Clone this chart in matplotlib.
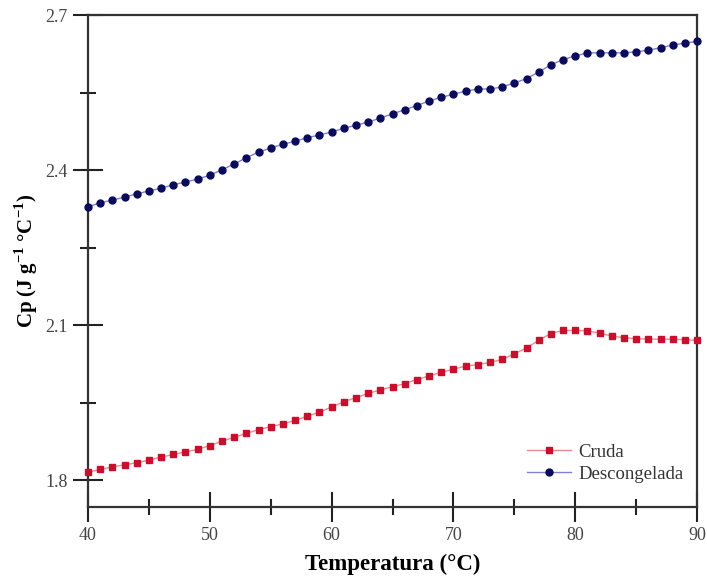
import matplotlib.pyplot as plt
from matplotlib.ticker import FixedLocator

# Temperatura (°C), un punto por grado
temp = list(range(40, 91))

cruda = [1.816, 1.821, 1.826, 1.830, 1.834, 1.839, 1.845, 1.850, 1.855, 1.860,
         1.867, 1.876, 1.883, 1.891, 1.898, 1.904, 1.909, 1.916, 1.924, 1.932,
         1.942, 1.952, 1.960, 1.968, 1.975, 1.981, 1.987, 1.995, 2.002, 2.009,
         2.015, 2.021, 2.024, 2.028, 2.034, 2.045, 2.056, 2.071, 2.084, 2.090,
         2.090, 2.089, 2.085, 2.079, 2.076, 2.074, 2.073, 2.073, 2.073, 2.072,
         2.071]

descongelada = [2.329, 2.337, 2.342, 2.348, 2.354, 2.360, 2.365, 2.372, 2.377, 2.383,
                2.390, 2.401, 2.412, 2.424, 2.435, 2.443, 2.450, 2.456, 2.463, 2.468,
                2.474, 2.481, 2.487, 2.493, 2.501, 2.509, 2.517, 2.525, 2.534, 2.541,
                2.547, 2.553, 2.557, 2.557, 2.561, 2.569, 2.577, 2.590, 2.604, 2.614,
                2.621, 2.627, 2.627, 2.627, 2.627, 2.629, 2.632, 2.637, 2.642, 2.646,
                2.649]

xticks = [40, 50, 60, 70, 80, 90]
yticks = [1.8, 2.1, 2.4, 2.7]

plt.rcParams['font.family'] = ['Liberation Serif', 'DejaVu Serif']
plt.rcParams['mathtext.fontset'] = 'custom'
plt.rcParams['mathtext.rm'] = 'Liberation Serif'
plt.rcParams['mathtext.bf'] = 'Liberation Serif:bold'

fig = plt.figure(figsize=(7.07, 5.81), dpi=100)
ax = fig.add_axes([0.1245, 0.127, 0.8615, 0.847])

ax.plot(temp, cruda, color='#f08a8a', lw=1.0, marker='s', ms=4.5,
        mfc='#c8102e', mec='#c8102e', label='Cruda', clip_on=False, zorder=3)
ax.plot(temp, descongelada, color='#8080d0', lw=1.0, marker='o', ms=5,
        mfc='#0b0b5c', mec='#0b0b5c', label='Descongelada', clip_on=False, zorder=3)

ax.set_xlim(40, 90)
ax.set_ylim(1.748, 2.7)
ax.set_xticks(xticks)
ax.set_yticks(yticks)
ax.xaxis.set_minor_locator(FixedLocator([45, 55, 65, 75, 85]))
ax.yaxis.set_minor_locator(FixedLocator([1.95, 2.25, 2.55]))

ax.tick_params(which='major', direction='inout', length=21, width=1.5,
               labelsize=13, labelcolor='#444444', color='#222222', pad=4)
ax.tick_params(which='minor', direction='inout', length=11, width=1.5,
               color='#222222')
ax.tick_params(top=False, right=False, which='both')
for s in ax.spines.values():
    s.set_linewidth(1.6)
    s.set_color('#333333')

ax.set_xlabel('Temperatura (°C)', fontsize=16.5, fontweight='bold', labelpad=7)
ax.set_ylabel(r'Cp (J g$^{\mathbf{-1}}$ °C$^{\mathbf{-1}}$)', fontsize=15,
              fontweight='bold', labelpad=4)

ax.legend(loc='lower right', bbox_to_anchor=(1.005, 0.015), frameon=False,
          fontsize=13.5, handlelength=2.3, handletextpad=0.4, labelspacing=0.28,
          labelcolor='#333333')

fig.savefig('out.png', dpi=100)
